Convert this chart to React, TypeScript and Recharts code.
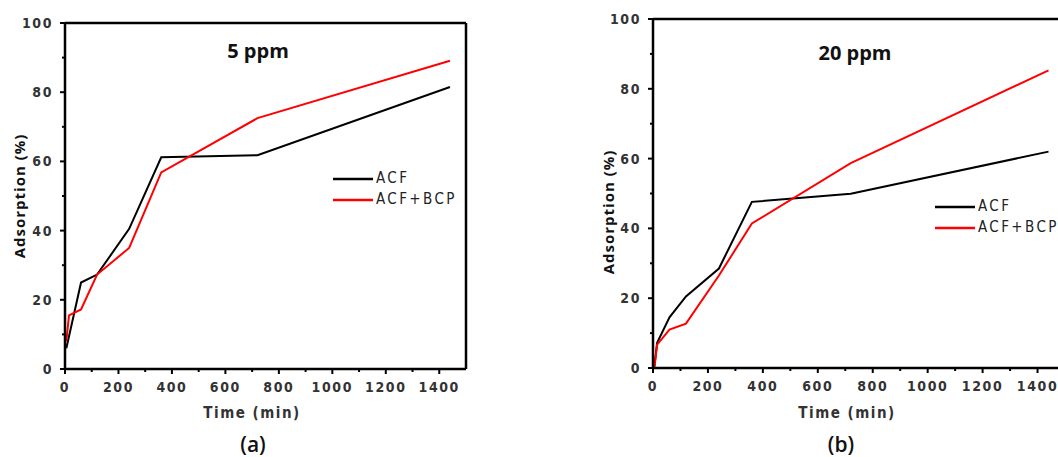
import React from "react";
import { LineChart, Line, XAxis, YAxis, ReferenceLine, Legend } from "recharts";

// tick values
const X_TICKS = [0, 100, 200, 300, 400, 500, 600, 700, 800, 900, 1000, 1100, 1200, 1300, 1400];
const Y_TICKS = [0, 10, 20, 30, 40, 50, 60, 70, 80, 90, 100];

// (a) 5 ppm
const TIME_A_ACF = [5, 60, 120, 240, 360, 720, 1440];
const ADS_A_ACF = [6, 25, 27.3, 40.5, 61.2, 61.8, 81.5];
const TIME_A_BCP = [5, 15, 60, 120, 240, 360, 720, 1440];
const ADS_A_BCP = [8, 15.5, 17.2, 27.3, 35, 56.8, 72.5, 89.1];

// (b) 20 ppm
const TIME_B = [5, 15, 60, 120, 240, 360, 720, 1440];
const ADS_B_ACF = [0.5, 7.2, 14.5, 20.5, 28.5, 47.6, 49.9, 62];
const ADS_B_BCP = [0, 6.7, 11, 12.7, 26.5, 41.4, 58.7, 85.3];

const SERIES_NAMES = ["ACF", "ACF+BCP"];
const SERIES_COLORS = ["#000000", "#ff0000"];

const toRows = (t: number[], v: number[]) => t.map((x, i) => ({ t: x, v: v[i] }));

const NARROW = '"Liberation Sans Narrow", "DejaVu Sans Condensed", "DejaVu Sans", Arial, sans-serif';
const SANS = '"Open Sans", "Noto Sans", Arial, sans-serif';

const tickTextStyle: React.CSSProperties = { fontStretch: "condensed" };

const XTick = (props: any) => {
  const { x, y, payload } = props;
  const major = payload.value % 200 === 0;
  return (
    <g>
      <line x1={x} y1={y} x2={x} y2={y + (major ? 5 : 3)} stroke="#000" strokeWidth={2} />
      {major && (
        <text
          x={x}
          y={y + 23}
          textAnchor="middle"
          fill="#333"
          fontFamily={NARROW}
          fontWeight="bold"
          fontSize={14}
          letterSpacing={1.6}
          style={tickTextStyle}
        >
          {payload.value}
        </text>
      )}
    </g>
  );
};

const YTick = (props: any) => {
  const { x, y, payload } = props;
  const major = payload.value % 20 === 0;
  return (
    <g>
      <line x1={x} y1={y} x2={x - (major ? 5 : 3)} y2={y} stroke="#000" strokeWidth={2} />
      {major && (
        <text
          x={x - 12}
          y={y + 5}
          textAnchor="end"
          fill="#333"
          fontFamily={NARROW}
          fontWeight="bold"
          fontSize={14}
          letterSpacing={1.6}
          style={tickTextStyle}
        >
          {payload.value}
        </text>
      )}
    </g>
  );
};

const LegendContent = ({ payload }: any) => (
  <div>
    {(payload || []).map((p: any) => (
      <div key={p.value} style={{ display: "flex", alignItems: "center", height: 21 }}>
        <svg width={40} height={4}>
          <line x1={0} y1={2} x2={40} y2={2} stroke={p.color} strokeWidth={2.5} />
        </svg>
        <span
          style={{
            marginLeft: 3,
            fontFamily: NARROW,
            fontStretch: "condensed",
            fontSize: 15,
            letterSpacing: 2.4,
            color: "#222",
            lineHeight: "21px",
          }}
        >
          {p.value}
        </span>
      </div>
    ))}
  </div>
);

type PanelProps = {
  left: number;
  width: number;
  margin: { top: number; right: number; bottom: number; left: number };
  acf: { t: number; v: number }[];
  bcp: { t: number; v: number }[];
  legendPos: { left: number; top: number };
};

function Panel({ left, width, margin, acf, bcp, legendPos }: PanelProps) {
  return (
    <div style={{ position: "absolute", left, top: 0 }}>
      <LineChart width={width} height={457} margin={margin}>
        <XAxis
          dataKey="t"
          type="number"
          domain={[0, 1500]}
          ticks={X_TICKS}
          interval={0}
          allowDataOverflow
          height={50}
          tickSize={0}
          tickMargin={0}
          axisLine={{ stroke: "#000", strokeWidth: 2.5 }}
          tickLine={false}
          tick={<XTick />}
        />
        <YAxis
          type="number"
          domain={[0, 100]}
          ticks={Y_TICKS}
          interval={0}
          width={50}
          tickSize={0}
          tickMargin={0}
          axisLine={{ stroke: "#000", strokeWidth: 2.5 }}
          tickLine={false}
          tick={<YTick />}
        />
        <ReferenceLine y={100} stroke="#000" strokeWidth={2.5} />
        <ReferenceLine x={1500} stroke="#000" strokeWidth={2.5} />
        <Line
          data={acf}
          dataKey="v"
          name={SERIES_NAMES[0]}
          stroke={SERIES_COLORS[0]}
          strokeWidth={2}
          dot={false}
          isAnimationActive={false}
        />
        <Line
          data={bcp}
          dataKey="v"
          name={SERIES_NAMES[1]}
          stroke={SERIES_COLORS[1]}
          strokeWidth={2}
          dot={false}
          isAnimationActive={false}
        />
        <Legend
          layout="vertical"
          align="center"
          verticalAlign="middle"
          content={<LegendContent />}
          wrapperStyle={{ left: legendPos.left, top: legendPos.top, width: "auto" }}
        />
      </LineChart>
    </div>
  );
}

const textAt = (x: number, y: number, style: React.CSSProperties = {}): React.CSSProperties => ({
  position: "absolute",
  left: x,
  top: y,
  transform: "translate(-50%, -50%)",
  whiteSpace: "nowrap",
  color: "#111",
  ...style,
});

export default function App() {
  const titleStyle = { fontFamily: SANS, fontWeight: 700, fontSize: 20 };
  const yTitle = {
    fontFamily: SANS,
    fontWeight: 700,
    fontSize: 15,
    letterSpacing: 1,
    transform: "translate(-50%, -50%) rotate(-90deg)",
  };
  const xTitle = {
    fontFamily: NARROW,
    fontStretch: "condensed",
    fontWeight: 700,
    fontSize: 15,
    letterSpacing: 1.5,
    color: "#333",
  };
  const capStyle = { fontFamily: SANS, fontWeight: 600, fontSize: 21 };

  return (
    <div
      style={{
        position: "absolute",
        left: 0,
        top: 0,
        width: 1058,
        height: 457,
        overflow: "hidden",
        background: "#fff",
      }}
    >
      <Panel
        left={0}
        width={480}
        margin={{ top: 23, right: 14, bottom: 38, left: 15 }}
        acf={toRows(TIME_A_ACF, ADS_A_ACF)}
        bcp={toRows(TIME_A_BCP, ADS_A_BCP)}
        legendPos={{ left: 333, top: 168 }}
      />
      <Panel
        left={580}
        width={500}
        margin={{ top: 19, right: 15, bottom: 39, left: 23 }}
        acf={toRows(TIME_B, ADS_B_ACF)}
        bcp={toRows(TIME_B, ADS_B_BCP)}
        legendPos={{ left: 355, top: 196 }}
      />

      <div style={textAt(258, 50, titleStyle)}>5 ppm</div>
      <div style={textAt(855, 52, titleStyle)}>20 ppm</div>

      <div style={textAt(19, 196, yTitle)}>Adsorption (%)</div>
      <div style={textAt(608, 212, yTitle)}>Adsorption (%)</div>

      <div style={textAt(252, 413, xTitle)}>Time (min)</div>
      <div style={textAt(847, 413, xTitle)}>Time (min)</div>

      <div style={textAt(253, 444, capStyle)}>(a)</div>
      <div style={textAt(841, 444, capStyle)}>(b)</div>
    </div>
  );
}
